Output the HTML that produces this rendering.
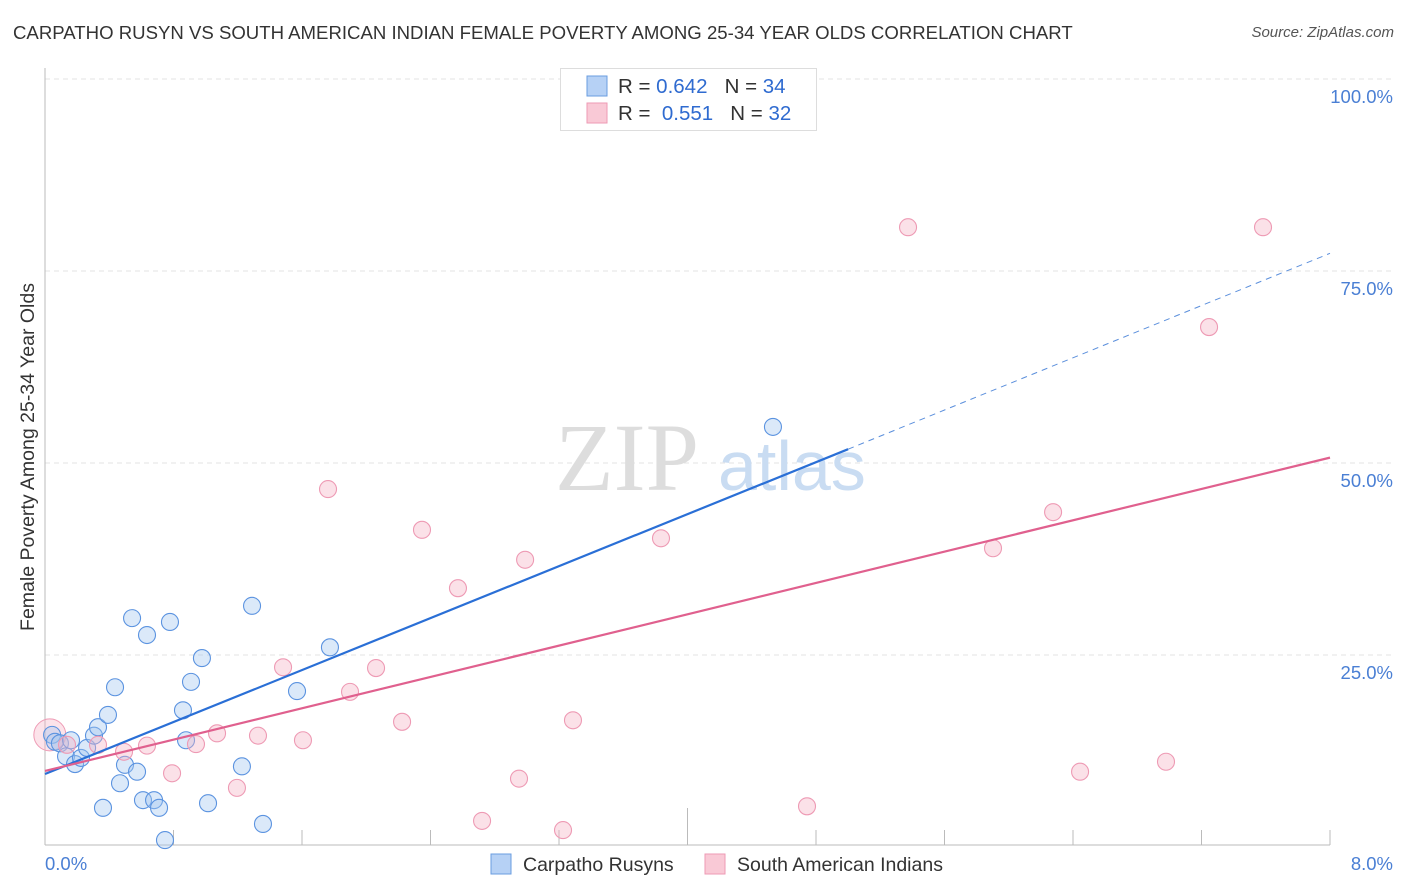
<!DOCTYPE html>
<html><head><meta charset="utf-8"><style>
body{margin:0;background:#fff;font-family:"Liberation Sans",sans-serif;}
#wrap{position:relative;width:1406px;height:892px;overflow:hidden;}
.title{position:absolute;left:13px;top:22px;font-size:18.6px;color:#333;}
.source{position:absolute;right:12px;top:24px;font-size:15px;font-style:italic;color:#555;}
</style></head><body>
<div id="wrap">
<div class="title">CARPATHO RUSYN VS SOUTH AMERICAN INDIAN FEMALE POVERTY AMONG 25-34 YEAR OLDS CORRELATION CHART</div>
<div class="source">Source: ZipAtlas.com</div>
<svg id="svg" width="1406" height="892" style="position:absolute;left:0;top:0"></svg>
</div>
<script>
const blueX=[0.044,0.062,0.093,0.131,0.162,0.187,0.224,0.262,0.305,0.330,0.361,0.392,0.436,0.467,0.498,0.542,0.573,0.610,0.635,0.679,0.710,0.747,0.778,0.859,0.878,0.909,0.977,1.015,1.226,1.289,1.357,1.569,1.774,4.532];
const blueY=[14.6,13.7,13.5,11.8,13.9,10.8,11.6,12.9,14.5,15.6,5.1,17.2,20.8,8.3,10.7,29.8,9.8,6.1,27.6,6.1,5.1,0.9,29.3,17.8,13.9,21.5,24.6,5.7,10.5,31.4,3.0,20.3,26.0,54.7];
const pinkX=[0.137,0.330,0.492,0.635,0.791,0.940,1.071,1.195,1.326,1.482,1.606,1.762,1.899,2.061,2.223,2.347,2.571,2.721,2.951,2.989,3.225,3.287,3.835,4.744,5.373,5.902,6.276,6.444,6.979,7.247,7.583];
const pinkY=[13.3,13.3,12.4,13.2,9.6,13.4,14.8,7.7,14.5,23.4,13.9,46.6,20.2,23.3,16.3,41.3,33.7,3.4,8.9,37.4,2.2,16.5,40.2,5.3,80.7,38.9,43.6,9.8,11.1,67.7,80.7];
const blueTrend=[9.5,51.8,77.3]; // y at x=0, x=5.0 (solid end), x=8
const pinkTrend=[9.9,50.7];
const yTicks=[25,50,75,100];
const yTickLabels=["25.0%","50.0%","75.0%","100.0%"];
const xTickLabels=["0.0%","8.0%"];
const sx=v=>45+v*1285/8, sy=v=>847-v*7.68;
const svg=document.getElementById('svg');
const NS='http://www.w3.org/2000/svg';
function mk(tag,attrs,parent){const e=document.createElementNS(NS,tag);for(const k in attrs)e.setAttribute(k,attrs[k]);(parent||svg).appendChild(e);return e;}
yTicks.forEach((t,i)=>{
 const g=mk('line',{x1:45,x2:1393,y1:sy(t),y2:sy(t),stroke:'#e3e3e3','stroke-dasharray':'5,4'});
 
 
 const tx=mk('text',{x:1393,y:sy(t)+24,'text-anchor':'end','font-size':18.5,fill:'#4a7fd4'});tx.textContent=yTickLabels[i];
 
 
});
const wm=mk('text',{x:555,y:490,'font-size':96,'font-family':'Liberation Serif,serif',fill:'#ddd'});wm.textContent='ZIP';


const wm2=mk('text',{x:718,y:490,'font-size':70,fill:'#c9dcf2'});wm2.textContent='atlas';


const ya=mk('line',{x1:45,x2:45,y1:68,y2:845,stroke:'#bbb'});


const xa=mk('line',{x1:45,x2:1330,y1:845,y2:845,stroke:'#bbb'});


for(let i=1;i<=10;i++){const x=sx(i*0.8);const t=mk('line',{x1:x,x2:x,y1:i==5?808:830,y2:845,stroke:'#bbb'});
 
 }
[[0,'start'],[8,'end']].forEach((p,i)=>{const t=mk('text',{x:i?1393:45,y:870,'text-anchor':p[1],'font-size':18.5,fill:'#4a7fd4'});t.textContent=xTickLabels[i];
 
 });
const yt=mk('text',{x:34,y:457,'text-anchor':'middle','font-size':19.5,fill:'#333',transform:'rotate(-90 34 457)'});yt.textContent='Female Poverty Among 25-34 Year Olds';


const big=mk('circle',{cx:sx(0.03),cy:sy(14.6),r:16,fill:'rgba(245,175,195,0.35)',stroke:'#ee9ab4'});


blueX.forEach((x,i)=>{const c=mk('circle',{cx:sx(x),cy:sy(blueY[i]),r:8.5,fill:'rgba(160,196,240,0.38)',stroke:'#5b93e0','stroke-width':1.1});
 
 });
pinkX.forEach((x,i)=>{const c=mk('circle',{cx:sx(x),cy:sy(pinkY[i]),r:8.5,fill:'rgba(245,175,195,0.38)',stroke:'#ee9ab4','stroke-width':1.1});
 
 });
const bl=mk('line',{x1:sx(0),y1:sy(blueTrend[0]),x2:sx(5),y2:sy(blueTrend[1]),stroke:'#2a6fd6','stroke-width':2.2});


const bd=mk('line',{x1:sx(5),y1:sy(blueTrend[1]),x2:sx(8),y2:sy(blueTrend[2]),stroke:'#5b8fdc','stroke-width':1,'stroke-dasharray':'6,5'});


const pl=mk('line',{x1:sx(0),y1:sy(pinkTrend[0]),x2:sx(8),y2:sy(pinkTrend[1]),stroke:'#e0608e','stroke-width':2.2});


const lb=mk('rect',{x:560.5,y:68.5,width:256,height:62,fill:'#fff',stroke:'#ddd'});


[[0,'#b6d1f5','#6a9de0','0.642','34'],[1,'#f9c9d6','#ee9ab4',' 0.551','32']].forEach(r=>{
 const y=76+r[0]*27;
 const s=mk('rect',{x:587,y:y,width:20,height:20,fill:r[1],stroke:r[2]});
 
 
 const t=mk('text',{x:618,y:y+17,'font-size':20.5,fill:'#333'});
 t.setAttribute('style','white-space:pre');
 t.innerHTML='R = <tspan fill="#2f6bd0">'+r[3]+'</tspan>   N = <tspan fill="#2f6bd0">'+r[4]+'</tspan>';
 
 
});
[[491,'#b6d1f5','#6a9de0','Carpatho Rusyns'],[705,'#f9c9d6','#ee9ab4','South American Indians']].forEach(r=>{
 const s=mk('rect',{x:r[0],y:854,width:20,height:20,fill:r[1],stroke:r[2]});
 
 
 const t=mk('text',{x:r[0]+32,y:871,'font-size':19.5,fill:'#333'});t.textContent=r[3];
 
 
});
</script>
</body></html>
